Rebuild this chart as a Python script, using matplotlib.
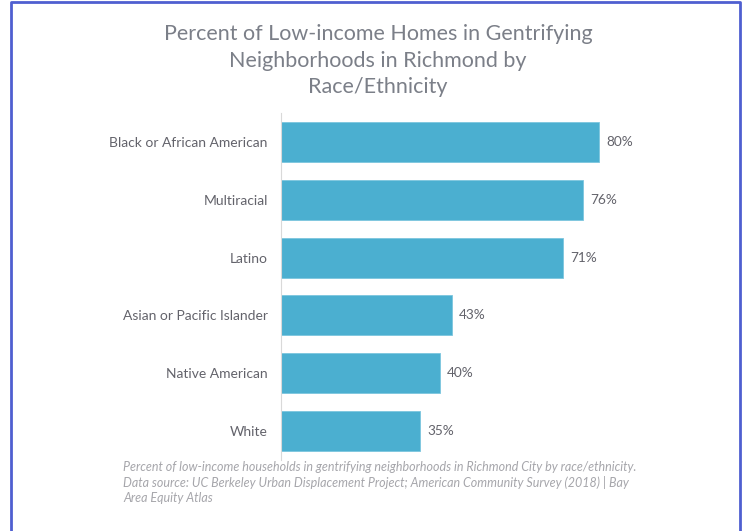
import matplotlib.pyplot as plt
import numpy as np

# data
groups = ['Black or African American', 'Multiracial', 'Latino',
          'Asian or Pacific Islander', 'Native American', 'White']
pct = [80, 76, 71, 43, 40, 35]

title = ('Percent of Low-income Homes in Gentrifying\n'
         'Neighborhoods in Richmond by\nRace/Ethnicity')
caption = ('Percent of low-income households in gentrifying neighborhoods in Richmond City by race/ethnicity.\n'
           'Data source: UC Berkeley Urban Displacement Project; American Community Survey (2018) | Bay\n'
           'Area Equity Atlas')

plt.rcParams['font.family'] = ['Lato', 'DejaVu Sans']

fig = plt.figure(figsize=(7.46, 5.31), dpi=100)
ax = fig.add_axes([0.3767, 0.1337, 0.5328, 0.6535])

y = np.arange(len(groups))
ax.barh(y, pct, height=0.69, color='#4bafd0', edgecolor='#7cc6de', linewidth=0.6)
for yi, v in zip(y, pct):
    ax.text(v + 1.8, yi, f'{v}%', va='center', ha='left', fontsize=9.8, color='#63636b')

ax.set_ylim(len(groups) - 0.5, -0.5)
ax.set_xlim(0, 100)
ax.set_yticks(y)
ax.set_yticklabels(groups, fontsize=10, color='#63636b')
ax.tick_params(axis='y', length=0, pad=9.5)
ax.set_xticks([])
for s in ['top', 'right', 'bottom']:
    ax.spines[s].set_visible(False)
ax.spines['left'].set_color('#d9d9d9')
ax.spines['left'].set_linewidth(0.8)

fig.text(0.507, 0.955, title, ha='center', va='top', fontsize=15.5,
         color='#7b7f88', linespacing=1.42)
fig.text(0.165, 0.132, caption, ha='left', va='top', fontsize=9,
         style='italic', color='#a6a6ab', linespacing=1.3)

# blue frame around the graphic
frame = plt.Line2D([0.0141, 0.0141, 0.9926, 0.9926], [0.0, 0.996, 0.996, 0.0],
                   transform=fig.transFigure, color='#4f5fd0', linewidth=2)
fig.add_artist(frame)

fig.savefig('out.png', dpi=100)
